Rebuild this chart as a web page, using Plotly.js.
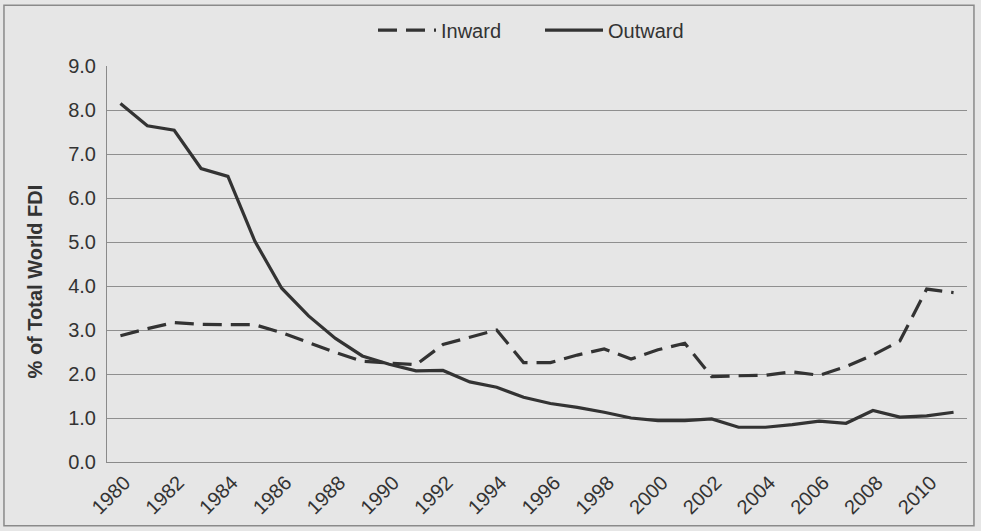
<!DOCTYPE html>
<html>
<head>
<meta charset="utf-8">
<script src="https://cdn.plot.ly/plotly-3.0.1.min.js"></script>
<style>
  html, body { margin: 0; padding: 0; background: #e6e6e6; }
  #chart { width: 981px; height: 531px; }
</style>
</head>
<body>
<div id="chart"></div>
<script>
const years = ['1980','1981','1982','1983','1984','1985','1986','1987','1988','1989',
               '1990','1991','1992','1993','1994','1995','1996','1997','1998','1999',
               '2000','2001','2002','2003','2004','2005','2006','2007','2008','2009',
               '2010','2011'];
const tickYears = ['1980','1982','1984','1986','1988','1990','1992','1994','1996','1998',
                   '2000','2002','2004','2006','2008','2010'];
const inward = [2.87, 3.03, 3.17, 3.13, 3.12, 3.12, 2.94, 2.71, 2.49, 2.29,
                2.25, 2.21, 2.67, 2.84, 3.00, 2.26, 2.26, 2.43, 2.57, 2.34,
                2.55, 2.70, 1.94, 1.96, 1.97, 2.05, 1.97, 2.17, 2.43, 2.75,
                3.93, 3.85];
const outward = [8.15, 7.64, 7.54, 6.67, 6.49, 5.02, 3.95, 3.32, 2.81, 2.41,
                 2.22, 2.07, 2.08, 1.82, 1.70, 1.47, 1.33, 1.24, 1.13, 1.00,
                 0.94, 0.94, 0.98, 0.79, 0.79, 0.85, 0.93, 0.88, 1.17, 1.02,
                 1.05, 1.13];
const yTicks = [0,1,2,3,4,5,6,7,8,9];
const yTickText = ['0.0','1.0','2.0','3.0','4.0','5.0','6.0','7.0','8.0','9.0'];
const yTitle = '% of Total World FDI';

const FONT = 'Liberation Sans, Arial, sans-serif';
const INK = '#333333';

const traces = [
  { x: years, y: inward, name: 'Inward', type: 'scatter', mode: 'lines',
    line: { color: INK, width: 3.2, dash: '19px,9px' } },
  { x: years, y: outward, name: 'Outward', type: 'scatter', mode: 'lines',
    line: { color: INK, width: 3.2 } }
];

const layout = {
  width: 981, height: 531,
  paper_bgcolor: '#e6e6e6', plot_bgcolor: '#e6e6e6',
  margin: { l: 107, r: 14, t: 65, b: 69 },
  font: { family: FONT, color: INK, size: 20 },
  showlegend: true,
  legend: { orientation: 'h', x: 0.3093, xanchor: 'left', y: 1.088, yanchor: 'middle',
            itemwidth: 58, entrywidth: 94, entrywidthmode: 'pixels',
            bgcolor: 'rgba(0,0,0,0)', font: { family: FONT, size: 20, color: INK },
            traceorder: 'normal' },
  xaxis: {
    type: 'category', range: [-0.5, years.length - 0.5],
    tickmode: 'array', tickvals: tickYears, ticktext: tickYears,
    tickangle: -45, showgrid: false, zeroline: false,
    showline: true, linecolor: '#8a8a8a', linewidth: 1,
    ticks: '', ticklabelshift: 4, ticklabelstandoff: 0,
    tickfont: { family: FONT, size: 20, color: INK },
    automargin: false, fixedrange: true
  },
  yaxis: {
    range: [0, 9], tickmode: 'array', tickvals: yTicks, ticktext: yTickText,
    showgrid: true, gridcolor: '#8f8f8f', gridwidth: 1, zeroline: false,
    showline: true, linecolor: '#8a8a8a', linewidth: 1,
    ticks: 'outside', ticklen: 6, tickcolor: 'rgba(0,0,0,0)',
    tickfont: { family: FONT, size: 20, color: INK },
    automargin: false, fixedrange: true
  },
  annotations: [
    { text: yTitle, xref: 'paper', yref: 'paper', x: -0.0837, y: 0.456,
      xanchor: 'center', yanchor: 'middle', textangle: -90, showarrow: false,
      font: { family: FONT, size: 20, color: INK, weight: 'bold' } }
  ],
  shapes: [
    { type: 'rect', xref: 'paper', yref: 'paper',
      x0: -0.1198, x1: 1.0081, y0: -0.1612, y1: 1.1537,
      line: { color: '#8a8a8a', width: 1.5 }, fillcolor: 'rgba(0,0,0,0)', layer: 'below' }
  ]
};

Plotly.newPlot('chart', traces, layout, { staticPlot: true, displayModeBar: false });
</script>
</body>
</html>
